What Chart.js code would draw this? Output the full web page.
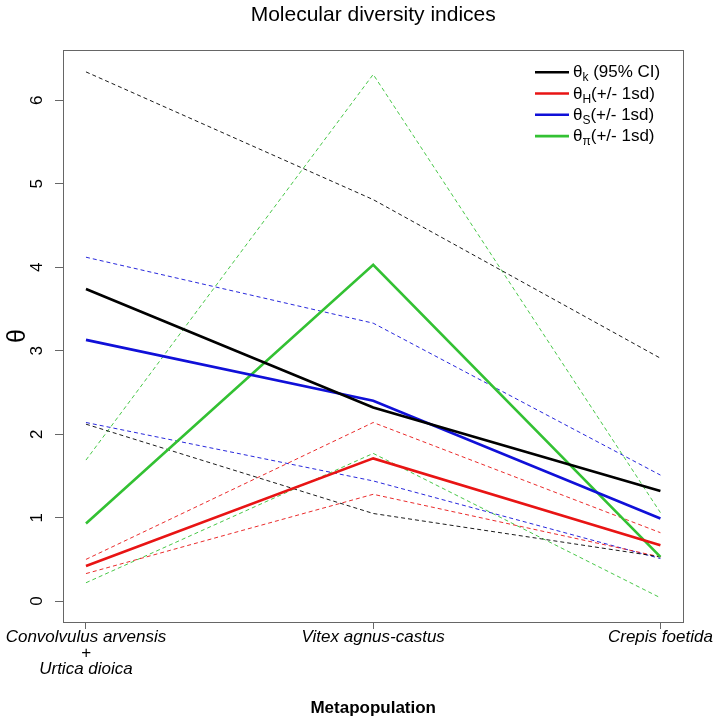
<!DOCTYPE html>
<html>
<head>
<meta charset="utf-8">
<title>Molecular diversity indices</title>
<script src="https://cdn.jsdelivr.net/npm/chart.js@4.4.1/dist/chart.umd.min.js"></script>
<style>
  html, body { margin: 0; padding: 0; background: #fff; }
  #wrap { width: 714px; height: 724px; }
</style>
</head>
<body>
<div id="wrap"><canvas id="chart" width="714" height="724"></canvas></div>
<script>
// Metapopulations on the x axis
const categories = ['Convolvulus arvensis\n+\nUrtica dioica', 'Vitex agnus-castus', 'Crepis foetida'];
const yTickValues = [0, 1, 2, 3, 4, 5, 6];

// theta estimates
const thetaK = [3.74, 2.32, 1.32];
const thetaKLow = [2.12, 1.05, 0.53];
const thetaKHigh = [6.34, 4.81, 2.91];

const thetaH = [0.42, 1.71, 0.67];
const thetaHLow = [0.33, 1.28, 0.53];
const thetaHHigh = [0.50, 2.14, 0.82];

const thetaS = [3.13, 2.40, 0.99];
const thetaSLow = [2.14, 1.44, 0.51];
const thetaSHigh = [4.12, 3.33, 1.51];

const thetaPi = [0.93, 4.03, 0.53];
const thetaPiLow = [0.22, 1.77, 0.04];
const thetaPiHigh = [1.69, 6.31, 1.06];

// legend pieces: theta with subscript + note
const legendSubs = ['k', 'H', 'S', '\u03C0'];
const legendNotes = [' (95% CI)', '(+/- 1sd)', '(+/- 1sd)', '(+/- 1sd)'];

const colors = ['#000000', '#e81414', '#1010d8', '#33c133'];
const FONT = '"Liberation Sans", Arial, Helvetica, sans-serif';
Chart.defaults.font.family = FONT;
Chart.defaults.color = '#000';

function toPoints(values) {
    return values.map((v, i) => ({ x: i + 1, y: v }));
}

function solid(values, color) {
    return {
        data: toPoints(values),
        borderColor: color,
        borderWidth: 2.6,
        pointRadius: 0,
        tension: 0,
        fill: false
    };
}

function dashed(values, color) {
    return {
        data: toPoints(values),
        borderColor: color,
        borderWidth: 0.9,
        borderDash: [4, 3],
        pointRadius: 0,
        tension: 0,
        fill: false
    };
}

const datasets = [
    solid(thetaK, colors[0]),
    solid(thetaH, colors[1]),
    solid(thetaS, colors[2]),
    solid(thetaPi, colors[3]),
    dashed(thetaKLow, colors[0]),
    dashed(thetaKHigh, colors[0]),
    dashed(thetaHLow, colors[1]),
    dashed(thetaHHigh, colors[1]),
    dashed(thetaSLow, colors[2]),
    dashed(thetaSHigh, colors[2]),
    dashed(thetaPiLow, colors[3]),
    dashed(thetaPiHigh, colors[3])
];

// box around the plot region (R style)
const frame = {
    id: 'frame',
    afterDraw(chart) {
        const a = chart.chartArea;
        const ctx = chart.ctx;
        ctx.save();
        ctx.strokeStyle = '#666';
        ctx.lineWidth = 1;
        ctx.strokeRect(Math.round(a.left) + 0.5, Math.round(a.top) + 0.5,
            Math.round(a.right - a.left), Math.round(a.bottom - a.top));
        ctx.restore();
    }
};

// legend with subscripts, top right inside the plot
const thetaLegend = {
    id: 'thetaLegend',
    afterDraw(chart) {
        const ctx = chart.ctx;
        const a = chart.chartArea;
        const x0 = 535;
        const y0 = a.top + 22;
        const dy = 21.3;
        ctx.save();
        ctx.textAlign = 'left';
        ctx.textBaseline = 'alphabetic';
        legendSubs.forEach((sub, i) => {
            const y = y0 + i * dy;
            ctx.strokeStyle = colors[i];
            ctx.lineWidth = 2.6;
            ctx.setLineDash([]);
            ctx.beginPath();
            ctx.moveTo(x0, y);
            ctx.lineTo(x0 + 34, y);
            ctx.stroke();

            ctx.fillStyle = '#000';
            let x = x0 + 38;
            ctx.font = '17px ' + FONT;
            ctx.fillText('\u03B8', x, y + 5);
            x += ctx.measureText('\u03B8').width;
            ctx.font = '12px ' + FONT;
            ctx.fillText(sub, x, y + 9);
            x += ctx.measureText(sub).width;
            ctx.font = '17px ' + FONT;
            ctx.fillText(legendNotes[i], x, y + 5);
        });
        ctx.restore();
    }
};

new Chart(document.getElementById('chart'), {
    type: 'line',
    data: { datasets: datasets },
    options: {
        responsive: false,
        animation: false,
        layout: { padding: { left: 0, right: 30, top: 0, bottom: 0 } },
        plugins: {
            legend: { display: false },
            tooltip: { enabled: false },
            title: {
                display: true,
                text: 'Molecular diversity indices',
                fullSize: false,
                color: '#000',
                font: { size: 21, weight: 'normal' },
                padding: { top: 3, bottom: 22 }
            }
        },
        scales: {
            x: {
                type: 'linear',
                min: 0.92,
                max: 3.08,
                afterBuildTicks: (scale) => {
                    scale.ticks = categories.map((c, i) => ({ value: i + 1 }));
                },
                afterFit: (scale) => { scale.height = 102; },
                ticks: {
                    autoSkip: false,
                    maxRotation: 0,
                    padding: 0,
                    color: '#000',
                    font: { size: 17, style: 'italic', lineHeight: 0.95 },
                    callback: (value) => {
                        const c = categories[Math.round(value) - 1];
                        return c ? c.split('\n') : '';
                    }
                },
                grid: {
                    drawOnChartArea: false,
                    drawTicks: true,
                    tickLength: 7,
                    color: '#666'
                },
                border: { display: true, color: '#666' },
                title: {
                    display: true,
                    text: 'Metapopulation',
                    color: '#000',
                    font: { size: 17, weight: 'bold' },
                    padding: { top: 0, bottom: 5 }
                }
            },
            y: {
                type: 'linear',
                min: -0.25,
                max: 6.6,
                afterBuildTicks: (scale) => {
                    scale.ticks = yTickValues.map(v => ({ value: v }));
                },
                afterFit: (scale) => { scale.width = 63; },
                ticks: {
                    minRotation: 90,
                    maxRotation: 90,
                    crossAlign: 'center',
                    padding: 13,
                    color: '#000',
                    font: { size: 17 }
                },
                grid: {
                    drawOnChartArea: false,
                    drawTicks: true,
                    tickLength: 8,
                    color: '#666'
                },
                border: { display: true, color: '#666' },
                title: {
                    display: true,
                    text: '\u03B8',
                    color: '#000',
                    font: { size: 25 },
                    padding: { top: 3, bottom: 0 }
                }
            }
        }
    },
    plugins: [frame, thetaLegend]
});
</script>
</body>
</html>
